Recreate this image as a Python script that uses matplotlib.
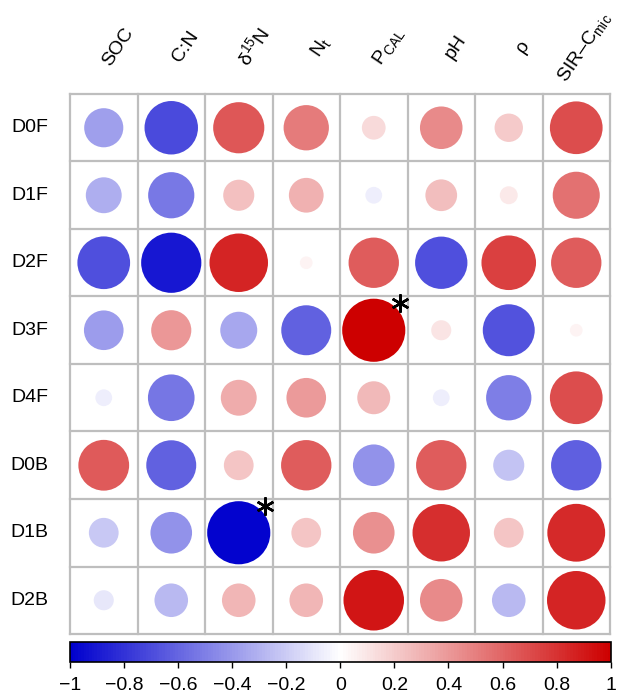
import numpy as np
import matplotlib
matplotlib.use("Agg")
import matplotlib.pyplot as plt
from matplotlib.colors import LinearSegmentedColormap, Normalize
from matplotlib.patches import Circle
from matplotlib.cm import ScalarMappable

plt.rcParams['font.family'] = ['Liberation Sans', 'DejaVu Sans']
plt.rcParams['mathtext.fontset'] = 'custom'
plt.rcParams['mathtext.rm'] = 'Liberation Sans'
plt.rcParams['mathtext.it'] = 'Liberation Sans:italic'

# Sites (rows) and soil variables (columns)
sites = ["D0F", "D1F", "D2F", "D3F", "D4F", "D0B", "D1B", "D2B"]
variables = ["SOC", "C:N", r"$\mathregular{δ^{15}N}$", r"$\mathregular{N_t}$",
             r"$\mathregular{P_{CAL}}$", "pH", "ρ", r"$\mathregular{SIR–C_{mic}}$"]

# Correlation coefficients, one list per site
r_D0F = [-0.38, -0.71, 0.65, 0.51, 0.14, 0.45, 0.20, 0.69]
r_D1F = [-0.32, -0.53, 0.24, 0.30, -0.07, 0.25, 0.08, 0.55]
r_D2F = [-0.69, -0.90, 0.85, 0.04, 0.63, -0.68, 0.74, 0.63]
r_D3F = [-0.39, 0.40, -0.34, -0.62, 0.99, 0.10, -0.67, 0.04]
r_D4F = [-0.07, -0.54, 0.32, 0.39, 0.27, -0.07, -0.51, 0.69]
r_D0B = [0.64, -0.62, 0.22, 0.63, -0.43, 0.63, -0.24, -0.63]
r_D1B = [-0.22, -0.43, -0.99, 0.22, 0.43, 0.82, 0.22, 0.83]
r_D2B = [-0.10, -0.28, 0.28, 0.28, 0.91, 0.45, -0.28, 0.85]

# Significant correlations (site index, variable index)
significant = [(3, 4), (6, 2)]

cbar_ticks = [-1, -0.8, -0.6, -0.4, -0.2, 0, 0.2, 0.4, 0.6, 0.8, 1]
cbar_labels = ["−1", "−0.8", "−0.6", "−0.4", "−0.2", "0", "0.2", "0.4", "0.6", "0.8", "1"]

corr = np.array([r_D0F, r_D1F, r_D2F, r_D3F, r_D4F, r_D0B, r_D1B, r_D2B])

cmap = LinearSegmentedColormap.from_list(
    "bwr3", [(0, 0, 205 / 255), (1, 1, 1), (205 / 255, 0, 0)], N=200)
norm = Normalize(-1, 1)

W, H = 619, 695
fig = plt.figure(figsize=(W / 100, H / 100), dpi=100)
ax = fig.add_axes([70 / W, (H - 634) / H, 540 / W, 540 / H])
nr, nc = corr.shape
ax.set_xlim(0, nc)
ax.set_ylim(nr, 0)
ax.axis("off")

for i in range(nr):
    for j in range(nc):
        v = corr[i, j]
        ax.add_patch(Circle((j + 0.5, i + 0.5), 0.47 * np.sqrt(abs(v)),
                            facecolor=cmap(norm(v)), edgecolor="none", zorder=2))

grid_col = "#bebebe"
for k in range(nc + 1):
    ax.plot([k, k], [0, nr], color=grid_col, lw=1.6, clip_on=False, zorder=3,
            solid_capstyle="projecting")
for k in range(nr + 1):
    ax.plot([0, nc], [k, k], color=grid_col, lw=1.6, clip_on=False, zorder=3,
            solid_capstyle="projecting")

for i, s in enumerate(sites):
    ax.text(-0.32, i + 0.5, s, ha="right", va="center", fontsize=14)

for j, v in enumerate(variables):
    dx = 0.62 if j == nc - 1 else 0.71
    ax.text(j + dx, -0.7, v, ha="center", va="center", rotation=56,
            rotation_mode="anchor", fontsize=14)

for (i, j) in significant:
    ax.plot(j + 0.5 + 0.39, i + 0.5 - 0.40, marker=(6, 2, 0), ms=13,
            mew=1.8, color="black", zorder=4, clip_on=False)

cax = fig.add_axes([70 / W, (H - 662) / H, 540.7 / W, 20 / H])
cb = fig.colorbar(ScalarMappable(norm=norm, cmap=cmap), cax=cax,
                  orientation="horizontal", ticks=cbar_ticks)
cb.ax.set_xticklabels(cbar_labels)
cb.outline.set_linewidth(1.2)
cb.outline.set_edgecolor("black")
cax.tick_params(axis="x", length=4, width=1, labelsize=14, pad=7, color="black")

fig.savefig("out.png", dpi=100)
